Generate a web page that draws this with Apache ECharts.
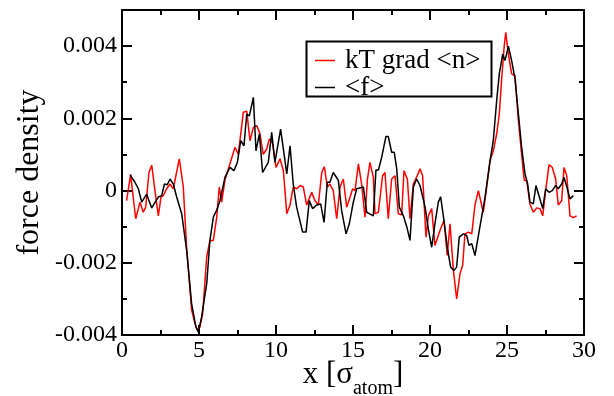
<html lang="en">
<head>
    <meta charset="UTF-8">
    <title>force density</title>
    <style>
        html, body { margin: 0; padding: 0; background: #fff; }
        #chart { width: 614px; height: 396px; }
    </style>
</head>
<body>
<div id="chart"></div>
<script src="https://cdn.jsdelivr.net/npm/echarts@6/dist/echarts.min.js"></script>
<script>
    // kT grad <n>  (red)
    const redX = [0.30, 0.56, 0.89, 1.17, 1.38, 1.54, 1.75, 1.93, 2.14, 2.36, 2.53, 2.68, 2.90, 3.12, 3.33, 3.72, 3.98,
        4.20, 4.52, 4.74, 4.89, 5.06, 5.24, 5.50, 5.71, 5.93, 6.15, 6.32, 6.47, 6.69, 7.01, 7.34, 7.55, 7.88, 8.10,
        8.31, 8.53, 8.75, 8.96, 9.17, 9.40, 9.57, 9.78, 10.00, 10.26, 10.48, 10.70, 10.91, 11.12, 11.34, 11.56, 11.77,
        11.99, 12.32, 12.53, 12.75, 12.97, 13.14, 13.33, 13.50, 13.72, 13.94, 14.16, 14.37, 14.59, 14.81, 14.98, 15.13,
        15.35, 15.56, 15.78, 15.93, 16.10, 16.32, 16.43, 16.65, 16.92, 17.08, 17.29, 17.51, 17.73, 17.94, 18.16, 18.31,
        18.53, 18.70, 18.92, 19.13, 19.35, 19.52, 19.74, 19.89, 20.11, 20.32, 20.69, 20.91, 21.12, 21.30, 21.51, 21.73,
        21.95, 22.12, 22.27, 22.49, 22.71, 22.92, 23.14, 23.46, 23.68, 23.90, 24.11, 24.33, 24.50, 24.66, 24.81, 24.92,
        25.09, 25.30, 25.52, 25.74, 25.95, 26.12, 26.28, 26.49, 26.71, 26.93, 27.14, 27.32, 27.51, 27.73, 27.94, 28.16,
        28.33, 28.55, 28.70, 28.88, 29.09, 29.31, 29.52]
    const redF = [-0.00028, 0.00044, -0.00078, -0.00032, -0.0006, -0.00046, 0.0005, 0.0007, 0, -0.0007, -0.00018,
        -0.00014, 0.00005, 0.00018, 0.00005, 0.00088, 0.0001,
        -0.0016, -0.0033, -0.00369, -0.00385, -0.00378, -0.00341, -0.00184, -0.00138, -0.00138, -0.00074, 0.0001,
        -0.00032, 0.0003, 0.00074, 0.0012, 0.001, 0.00217, 0.0022,
        0.00138, 0.00175, 0.0018, 0.00157, 0.001, 0.00115, 0.00143, 0.0013, 0.00064, 0.00088, 0.00055, -0.00064,
        -0.0004, 0.0001, 0.00005, 0.00014, 0.0001,
        -0.0004, -0.00005, -0.00028, -0.0004, 0.0005, 0.00066, 0.0001, 0.00018, 0, -0.00078, 0.0001, 0.00032,
        -0.00046, -0.00018, 0.00005, 0,
        0.00074, 0.00018, -0.00074, 0.00028, 0.00078, 0.00037, -0.00064, -0.0006, 0.00041, 0.0005, -0.00078, 0.00032,
        0.00041, -0.00064, -0.00067, 0.00055,
        0.00032, -0.00078, 0.00018, 0.00037, 0.0006, 0.00041, -0.00129, -0.0007, -0.0005, -0.00152, -0.00106,
        -0.00083, -0.0018, -0.00092, -0.00217, -0.003,
        -0.0023, -0.00207, -0.0012, -0.00115, -0.0012, -0.0004, 0, -0.0006, 0.0001, 0.00083, 0.0011, 0.00157,
        0.00212, 0.00313, 0.00396, 0.00438,
        0.00378, 0.00323, 0.00318, 0.00194, 0.001, 0.00028, 0.00028, -0.00037, -0.0006, -0.00048, -0.0005, -0.0007,
        0, 0.00072, 0.00064, 0.00032,
        -0.0004, -0.00028, 0.00064, 0.00041, -0.0007, -0.00075, -0.0007]

    // <f>  (black)
    const blackX = [0.52, 0.84, 1.06, 1.28, 1.60, 1.93, 2.36, 2.58, 2.75, 2.94, 3.12, 3.33, 3.55, 3.88, 4.20, 4.52,
        4.80, 4.96, 5.17, 5.50, 5.71, 5.93, 6.19, 6.36, 6.69, 7.01, 7.27, 7.49, 7.71, 7.92, 8.10, 8.27, 8.53, 8.70,
        8.92, 9.13, 9.50, 9.72, 9.93, 10.30, 10.70, 10.91, 11.12, 11.34, 11.73, 11.95, 12.16, 12.38, 12.64, 12.90,
        13.12, 13.33, 13.50, 13.72, 14.05, 14.26, 14.55, 14.76, 15.02, 15.24, 15.67, 15.89, 16.32, 16.49, 16.65,
        16.86, 17.14, 17.29, 17.51, 17.68, 17.84, 18.01, 18.27, 18.49, 18.70, 18.92, 19.13, 19.35, 19.68, 19.89,
        20.11, 20.32, 20.54, 20.69, 20.91, 21.12, 21.34, 21.56, 21.73, 21.90, 22.16, 22.38, 22.53, 22.71, 22.92,
        23.20, 23.57, 23.90, 24.11, 24.33, 24.50, 24.72, 24.87, 25.09, 25.30, 25.52, 25.74, 25.95, 26.17, 26.34,
        26.49, 26.71, 26.88, 27.10, 27.32, 27.51, 27.73, 27.94, 28.16, 28.33, 28.55, 28.70, 28.92, 29.09, 29.31]
    const blackF = [0.00044, 0.00023, 0.00005, -0.00032, -0.0001, -0.00048, -0.00018, -0.00014, 0.00018, 0.00016,
        0.00032, 0.00018, -0.00018, -0.00065, -0.00166, -0.00313,
        -0.00378, -0.00392, -0.0035, -0.00258, -0.00138, -0.00074, -0.0005, -0.00028, 0.00037, 0.00064, 0.00055,
        0.00078, 0.00138, 0.00124, 0.00212, 0.00207, 0.00258, 0.0011,
        0.00157, 0.0005, 0.00078, 0.00161, 0.00078, 0.0017, 0.00046, 0.00124, 0.00018, -0.00046, -0.00115, -0.00115,
        -0.00028, -0.0005, -0.0004, -0.00037,
        -0.00088, 0.00023, 0.00023, 0.0005, 0.00028, -0.00055, -0.0012, -0.00092, -0.00032, 0.00005, 0.0001,
        -0.0006, -0.0007, 0.00057, 0.00057,
        0.00092, 0.0015, 0.0015, 0.00106, 0.00106, 0.0006, -0.00046, -0.0007, -0.001, -0.00138, 0.0001, 0.00032,
        0.00014, -0.00046, -0.00106,
        -0.00157, -0.00092, -0.00032, -0.00017, -0.00083, -0.00157, -0.00212, -0.00221, -0.00212, -0.00129, -0.0012,
        -0.00124, -0.00152, -0.00147, -0.0018,
        -0.0011, -0.0002, 0.00083, 0.00138, 0.00249, 0.00323, 0.00378, 0.0036, 0.004, 0.0036, 0.00309, 0.00212,
        0.0012, 0.00046, 0.00018,
        -0.00032, -0.00037, 0.00014, -0.00018, -0.0005, 0.00005, -0.00005, 0, 0.00014, 0.00005, 0.00018, 0.00037,
        0.00005, -0.00023, -0.00014]

    const seriesNames = ['kT grad <n>', '<f>']
    const yTicks = [-0.004, -0.002, 0, 0.002, 0.004]

    const FONT = '"Liberation Serif", "Times New Roman", serif'
    const pairs = (xs, ys) => xs.map((x, i) => [x, ys[i]])

    const chart = echarts.init(document.getElementById('chart'), null, { renderer: 'canvas' })

    const lineStyle = { color: '#000', width: 2 }
    // axis lines never sit on zero, they form the frame
    const frameLine = { show: true, onZero: false, lineStyle }
    const noLine = { show: false, onZero: false }
    const baseX = { type: 'value', min: 0, max: 30, splitLine: { show: false }, axisLine: noLine }
    const baseY = { type: 'value', min: -0.004, max: 0.005, splitLine: { show: false }, axisLine: noLine }

    chart.setOption({
        animation: false,
        backgroundColor: '#fff',
        grid: { left: 122, right: 30, top: 10, bottom: 61, outerBoundsMode: 'none', containLabel: false },
        legend: {
            orient: 'vertical',
            left: 310,
            top: 42,
            itemGap: 0,
            itemWidth: 20,
            itemHeight: 1.5,
            icon: 'rect',
            textStyle: { fontFamily: FONT, fontSize: 27, lineHeight: 25, color: '#000', padding: [0, 0, 0, 5] },
            data: seriesNames
        },
        graphic: [{
            type: 'rect',
            left: 304,
            top: 39,
            shape: { width: 185, height: 55 },
            style: { fill: 'none', stroke: '#000', lineWidth: 2 },
            z: 10
        }],
        xAxis: [
            {
                ...baseX, position: 'bottom', interval: 5,
                axisLine: frameLine,
                axisTick: { inside: true, length: 10, lineStyle },
                axisLabel: { fontFamily: FONT, fontSize: 24, color: '#000', margin: 4 },
                name: '{a|x [σ}{b|atom}{a|]}',
                nameLocation: 'middle',
                nameGap: 24,
                nameMoveOverlap: false,
                nameTextStyle: {
                    rich: {
                        a: { fontFamily: FONT, fontSize: 31, color: '#000', lineHeight: 34, verticalAlign: 'top' },
                        b: { fontFamily: FONT, fontSize: 20, color: '#000', lineHeight: 20, verticalAlign: 'top', padding: [20, 0, 0, 0] }
                    }
                }
            },
            {
                ...baseX, position: 'bottom', interval: 2.5,
                axisTick: { inside: true, length: 5, lineStyle },
                axisLabel: { show: false }
            },
            {
                ...baseX, position: 'top', interval: 5,
                axisLine: frameLine,
                axisTick: { inside: true, length: 10, lineStyle },
                axisLabel: { show: false }
            },
            {
                ...baseX, position: 'top', interval: 2.5,
                axisTick: { inside: true, length: 5, lineStyle },
                axisLabel: { show: false }
            }
        ],
        yAxis: [
            {
                ...baseY, position: 'left', interval: 0.002,
                axisLine: frameLine,
                axisTick: { inside: true, length: 10, lineStyle },
                axisLabel: {
                    fontFamily: FONT, fontSize: 24, color: '#000', margin: 5,
                    formatter: v => {
                        const t = yTicks.find(k => Math.abs(k - v) < 1e-9)
                        return t === undefined ? '' : String(t)
                    }
                },
                name: 'force density',
                nameLocation: 'middle',
                nameGap: 76,
                nameMoveOverlap: false,
                nameTextStyle: { fontFamily: FONT, fontSize: 32, color: '#000' }
            },
            {
                ...baseY, position: 'left', interval: 0.001,
                axisTick: { inside: true, length: 5, lineStyle },
                axisLabel: { show: false }
            },
            {
                ...baseY, position: 'right', interval: 0.002,
                axisLine: frameLine,
                axisTick: { inside: true, length: 10, lineStyle },
                axisLabel: { show: false }
            },
            {
                ...baseY, position: 'right', interval: 0.001,
                axisTick: { inside: true, length: 5, lineStyle },
                axisLabel: { show: false }
            }
        ],
        series: [
            {
                name: seriesNames[0],
                type: 'line',
                data: pairs(redX, redF),
                showSymbol: false,
                symbol: 'none',
                lineStyle: { color: '#ff0000', width: 1.5 },
                itemStyle: { color: '#ff0000' }
            },
            {
                name: seriesNames[1],
                type: 'line',
                data: pairs(blackX, blackF),
                showSymbol: false,
                symbol: 'none',
                lineStyle: { color: '#000', width: 1.5 },
                itemStyle: { color: '#000' }
            }
        ]
    })
</script>
</body>
</html>
